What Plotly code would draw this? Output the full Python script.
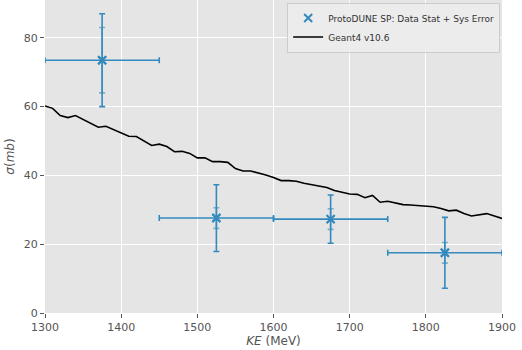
import plotly.graph_objects as go

# Data points (ProtoDUNE SP)
data_ke = [1375, 1525, 1675, 1825]
data_ke_err = [75, 75, 75, 75]
data_xs = [73.5, 27.6, 27.3, 17.5]
data_stat_err = [9.5, 3.0, 3.0, 3.0]
data_total_err = [13.5, 9.7, 7.0, 10.3]

# Geant4 v10.6 prediction
g4_ke = list(range(1300, 1901, 10))
g4_xs = [60.2, 59.5, 57.4, 56.8, 57.4, 56.3, 55.1, 54.0, 54.3, 53.3,
         52.5, 51.4, 51.3, 50.0, 48.7, 49.1, 48.4, 46.9, 47.0, 46.4,
         45.1, 45.1, 44.0, 44.0, 43.8, 42.0, 41.3, 41.3, 40.8, 40.1,
         39.4, 38.5, 38.5, 38.3, 37.7, 37.3, 36.9, 36.5, 35.6, 35.0,
         34.6, 34.5, 33.5, 34.2, 32.2, 32.5, 31.9, 31.5, 31.4, 31.3,
         31.1, 30.9, 30.4, 29.7, 29.9, 28.9, 28.2, 28.5, 28.9, 28.2, 27.5]

x_ticks = [1300, 1400, 1500, 1600, 1700, 1800, 1900]
y_ticks = [0, 20, 40, 60, 80]

blue = "#348ABD"

fig = go.Figure()
fig.add_trace(go.Scatter(
    x=data_ke, y=data_xs, mode="markers",
    marker=dict(symbol="x-thin", size=8, color=blue, line=dict(color=blue, width=2)),
    error_x=dict(type="data", array=data_ke_err, color=blue, thickness=1.6, width=3),
    error_y=dict(type="data", array=data_total_err, color=blue, thickness=1.6, width=3),
    name="ProtoDUNE SP: Data Stat + Sys Error",
))
fig.add_trace(go.Scatter(
    x=data_ke, y=data_xs, mode="markers",
    marker=dict(symbol="x-thin", size=8, color=blue, line=dict(color=blue, width=2)),
    error_y=dict(type="data", array=data_stat_err, color="rgba(52,138,189,0.6)", thickness=1.6, width=3),
    showlegend=False,
))
fig.add_trace(go.Scatter(
    x=g4_ke, y=g4_xs, mode="lines",
    line=dict(color="black", width=1.6),
    name="Geant4 v10.6",
))

axis_font = dict(family="DejaVu Sans", size=11, color="#555555")
fig.update_layout(
    width=522, height=350,
    margin=dict(l=45, r=20, t=0, b=37),
    paper_bgcolor="white",
    plot_bgcolor="#E5E5E5",
    font=dict(family="DejaVu Sans", size=11, color="#555555"),
    legend=dict(
        x=0.996, y=0.992, xanchor="right", yanchor="top",
        bgcolor="rgba(236,236,236,0.9)", bordercolor="#CCCCCC", borderwidth=1,
        font=dict(family="DejaVu Sans", size=9, color="#333333"),
        tracegroupgap=0, itemwidth=30,
    ),
    xaxis=dict(
        range=[1300, 1900], tickvals=x_ticks, ticktext=[str(v) for v in x_ticks],
        showgrid=True, gridcolor="white", gridwidth=1.2, zeroline=False,
        ticks="outside", ticklen=4, tickcolor="#555555", tickfont=axis_font,
        title=dict(text="<i>KE</i> (MeV)", font=dict(family="DejaVu Sans", size=12, color="#555555"), standoff=2),
    ),
    yaxis=dict(
        range=[0, 91], tickvals=y_ticks, ticktext=[str(v) for v in y_ticks],
        showgrid=True, gridcolor="white", gridwidth=1.2, zeroline=False,
        ticks="outside", ticklen=4, tickcolor="#555555", tickfont=axis_font,
        title=dict(text="<i>σ</i>(<i>mb</i>)", font=dict(family="DejaVu Sans", size=12, color="#555555"), standoff=6),
    ),
)

fig.write_html("out.html")
